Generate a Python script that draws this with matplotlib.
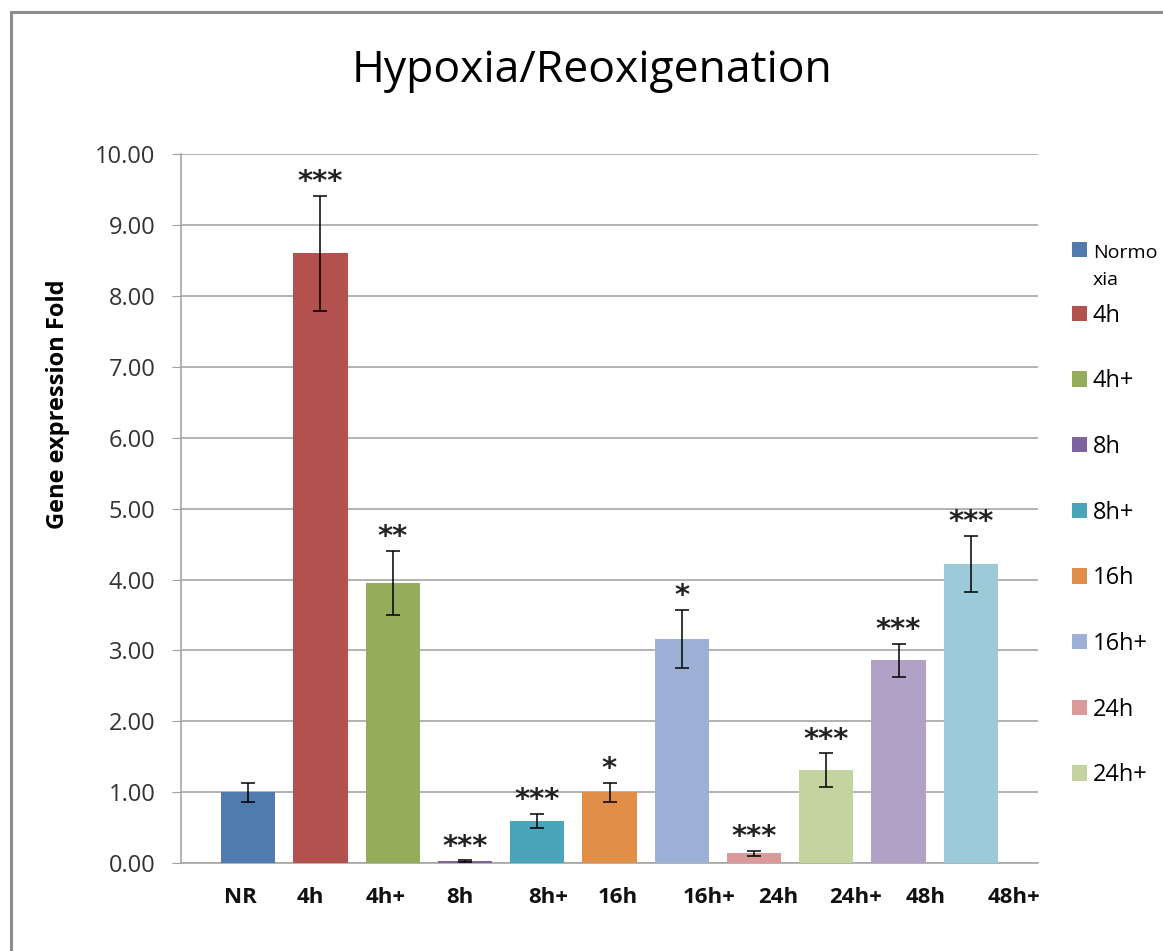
import matplotlib.pyplot as plt
from matplotlib.patches import Rectangle

groups = ['NR', '4h', '4h+', '8h', '8h+', '16h', '16h+', '24h', '24h+', '48h', '48h+']
legend_names = ['Normo', '4h', '4h+', '8h', '8h+', '16h', '16h+', '24h', '24h+']
values = [1.00, 8.60, 3.95, 0.03, 0.60, 1.00, 3.16, 0.14, 1.31, 2.86, 4.22]
errors = [0.13, 0.81, 0.45, 0.01, 0.10, 0.13, 0.41, 0.035, 0.24, 0.23, 0.40]
stars = ['', '***', '**', '***', '***', '*', '*', '***', '***', '***', '***']
colors = ['#4F7BAF', '#B3514F', '#95AD5B', '#7F63A0', '#4AA5BA', '#E08E48',
          '#9DB1D6', '#D99A9A', '#C3D4A0', '#B1A1C6', '#9CCAD9']
# tick labels in the original are not centred under the bars
label_pos = [0.89, 1.86, 2.90, 3.93, 5.15, 6.11, 7.38, 8.34, 9.40, 10.37, 11.60]

plt.rcParams['font.family'] = ['Open Sans', 'DejaVu Sans']

fig = plt.figure(figsize=(11.63, 9.51), dpi=100)
fig.patches.append(Rectangle((11 / 1163, -0.05), 1.1, 1 - 12 / 951 + 0.05,
                             transform=fig.transFigure, fill=False,
                             edgecolor='#8E8E8E', linewidth=2.2))
ax = fig.add_axes([181 / 1163, 0.0922, 857 / 1163, 0.746])

x = list(range(1, len(groups) + 1))
bars = ax.bar(x, values, width=0.75, color=colors, zorder=3)
ax.errorbar(x, values, yerr=errors, fmt='none', ecolor='black',
            elinewidth=1.1, capsize=5, capthick=1.1, zorder=4)

for xi, v, e, s in zip(x, values, errors, stars):
    if s:
        ax.text(xi, v + e + 0.08, s, ha='center', va='baseline',
                fontsize=21, fontweight='bold', family='DejaVu Sans', color='#222222')

ax.set_xlim(0.07, 11.93)
ax.set_ylim(0, 10)
ax.set_yticks([i for i in range(11)])
ax.set_yticklabels([f'{i:.2f}' for i in range(11)], fontsize=17, color='#333333')
ax.set_xticks(label_pos)
ax.set_xticklabels(groups, fontsize=16, fontweight='bold', color='#111111')
ax.tick_params(axis='x', length=0, pad=17)
ax.tick_params(axis='y', length=6.5, color='#A0A0A0', direction='out', pad=12)
ax.grid(axis='y', color='#A6A6A6', linewidth=1.2, zorder=0)

for side in ['top', 'right']:
    ax.spines[side].set_visible(False)
for side in ['left', 'bottom']:
    ax.spines[side].set_color('#A6A6A6')
    ax.spines[side].set_linewidth(1.2)

ax.set_ylabel('Gene expression Fold', fontsize=17, fontweight='bold')
ax.yaxis.set_label_coords(-0.1295, 0.6467)
ax.set_title('Hypoxia/Reoxigenation', fontsize=32, pad=52, x=0.48)

leg = ax.legend(bars[:9], legend_names, loc='upper left', bbox_to_anchor=(1.0397, 0.876),
                frameon=False, fontsize=17, labelspacing=1.765, borderpad=0, borderaxespad=0,
                handlelength=0.63, handleheight=0.63, handletextpad=0.25)
first = leg.get_texts()[0]
first.set_fontsize(14)
# "Normoxia" wraps onto a second line in the original legend
ax.annotate('xia', xy=(0, 0.5), xycoords=first, xytext=(0, -19.4),
            textcoords='offset points', ha='left', va='center', fontsize=14,
            color=first.get_color(), zorder=10, annotation_clip=False)

plt.savefig('out.png', dpi=100)
